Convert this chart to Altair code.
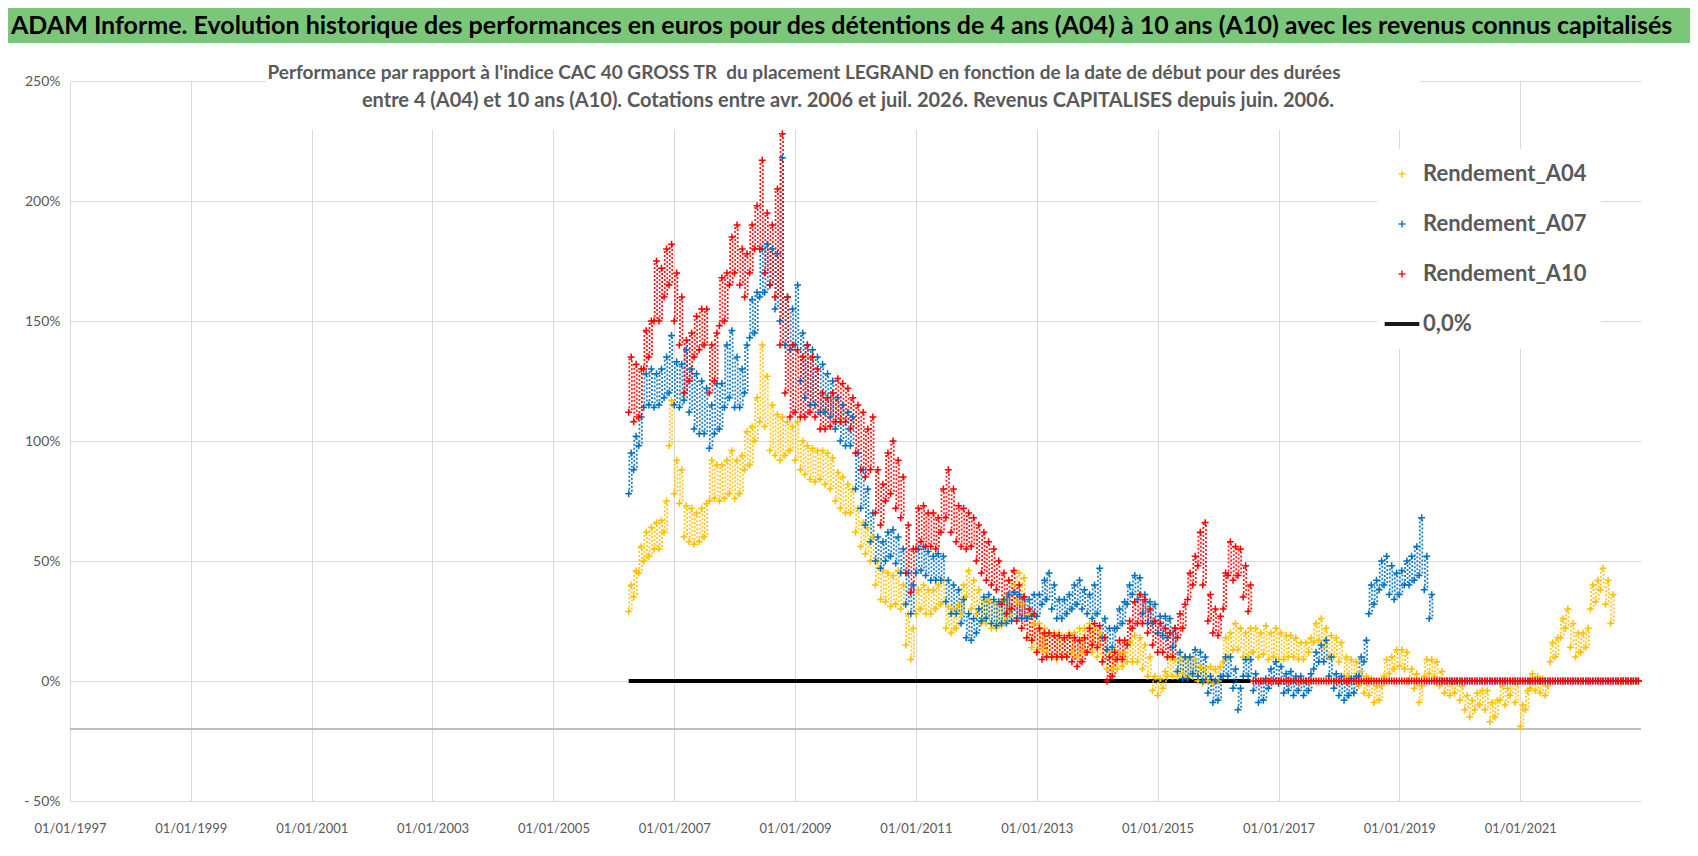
import altair as alt
import pandas as pd

FONT = "Lato"

series_names = ["Rendement_A04", "Rendement_A07", "Rendement_A10", "0,0%"]
series_colors = ["#FFC000", "#0070C0", "#FF0000", "#000000"]

title_text = ("ADAM Informe. Evolution historique des performances en euros pour des détentions "
              "de 4 ans (A04) à 10 ans (A10) avec les revenus connus capitalisés")
subtitle_1 = ("Performance par rapport à l'indice CAC 40 GROSS TR\u00a0 du placement LEGRAND en fonction "
              "de la date de début pour des durées")
subtitle_2 = ("entre 4 (A04) et 10 ans (A10). Cotations entre avr. 2006 et juil. 2026. "
              "Revenus CAPITALISES depuis juin. 2006.")

# monthly grid Apr 2006 .. Dec 2022 ; per month: low of the cloud (1st) and high (16th), in %
first_month = "2006-04-01"
n_months = 201

a04_lo = [
    29, 35, 45, 50, 52, 55, 55, 62, 98,
    78, 74, 60, 58, 57, 58, 60, 75, 76, 75, 76, 78,
    76, 78, 88, 90, 100, 108, 106, 96, 94, 92, 94, 96,
    92, 88, 86, 84, 83, 84, 82, 80, 75, 72, 70, 70,
    62, 56, 53, 50, 40, 34, 33, 31, 32, 30, 15, 9,
    28, 30, 28, 28, 30, 32, 22, 20, 22, 28, 35, 30,
    28, 24, 24, 22, 22, 23, 25, 28, 33, 32, 18, 14,
    13, 13, 12, 10, 9, 10, 10, 12, 10, 12, 12, 12,
    10, 8, 5, 5, 5, 6, 8, 8, 8, 5, 2, -4,
    -6, -3, 2, 2, 2, 3, 2, 2, 0, -1, 0, -1,
    0, 8, 10, 13, 13, 10, 10, 12, 10, 11, 9, 10,
    9, 9, 10, 10, 9, 9, 12, 16, 17, 14, 10, 10,
    8, 2, 2, 1, -2, -5, -6, -9, -8, 2, 3, 5,
    6, 5, 0, -3, -9, 2, 3, 2, -2, -5, -6, -5,
    -8, -12, -15, -12, -10, -12, -17, -15, -8, -10, -6, -9,
    -19, -12, -3, -4, -5, -6, 8, 10, 18, 22, 14, 10,
    12, 14, 30, 33, 38, 32, 24, 0, 0, 0, 0, 0,
]
a04_hi = [
    40, 46, 56, 62, 64, 66, 67, 75, 117,
    92, 88, 73, 72, 70, 72, 74, 92, 90, 90, 92, 96,
    92, 94, 104, 106, 118, 140, 127, 115, 111, 110, 108, 106,
    108, 100, 98, 97, 96, 96, 95, 93, 87, 85, 82, 80,
    72, 66, 64, 60, 50, 46, 45, 44, 46, 40, 28, 22,
    38, 40, 38, 38, 40, 42, 31, 30, 32, 40, 46, 42,
    38, 34, 34, 33, 33, 34, 36, 40, 45, 43, 28, 24,
    24, 22, 20, 20, 20, 18, 20, 20, 22, 22, 24, 22,
    20, 18, 12, 13, 12, 12, 16, 19, 18, 15, 10, 2,
    1, 4, 10, 9, 9, 10, 10, 9, 6, 5, 6, 5,
    6, 18, 20, 24, 22, 20, 22, 22, 20, 23, 20, 22,
    20, 19, 19, 18, 16, 16, 18, 24, 26, 22, 19, 18,
    16, 10, 9, 8, 4, 2, 1, -2, -2, 9, 10, 13,
    13, 12, 5, 3, -2, 9, 9, 8, 4, 0, -1, 0,
    -2, -6, -8, -5, -4, -4, -9, -8, -2, -3, 0, -1,
    -10, -4, 3, 2, 1, -2, 16, 18, 26, 30, 24, 20,
    20, 22, 40, 42, 47, 42, 36, 0, 0, 0, 0, 0,
]
a07_lo = [
    78, 88, 98, 114, 115, 114, 115, 118, 120,
    115, 114, 117, 112, 105, 103, 103, 97, 103, 105, 114, 118,
    114, 114, 120, 143, 145, 160, 162, 165, 155, 150, 140, 138,
    140, 125, 118, 115, 115, 112, 112, 110, 105, 100, 98, 98,
    80, 72, 65, 58, 50, 47, 50, 52, 49, 45, 32, 28,
    45, 46, 44, 42, 42, 42, 33, 28, 28, 24, 18, 17,
    20, 25, 26, 24, 23, 24, 24, 25, 26, 26, 26, 27,
    27, 32, 34, 30, 26, 26, 28, 30, 32, 30, 28, 26,
    28, 18, 13, 14, 22, 24, 32, 36, 34, 28, 24, 24,
    20, 19, 18, 14, 4, 1, 1, 3, 2, 0, -5, -9,
    -8, 2, 2, -3, -12, 2, 2, -4, -9, -8, -3, 0,
    -1, -5, -4, -6, -4, -6, -4, 5, 8, 8, 2, -3,
    -6, -8, -6, -5, 2, 8, 28, 32, 38, 40, 36, 34,
    36, 40, 40, 42, 44, 38, 26, 0, 0, 0, 0, 0,
    0, 0, 0, 0, 0, 0, 0, 0, 0, 0, 0, 0,
    0, 0, 0, 0, 0, 0, 0, 0, 0, 0, 0, 0,
    0, 0, 0, 0, 0, 0, 0, 0, 0, 0, 0, 0,
]
a07_hi = [
    95, 102, 110, 128, 130, 128, 130, 135, 144,
    133, 132, 138, 130, 128, 125, 122, 115, 124, 124, 140, 146,
    135, 130, 140, 159, 162, 180, 182, 180, 178, 218, 160, 155,
    165, 145, 140, 138, 135, 132, 128, 125, 118, 115, 112, 110,
    95, 88, 80, 70, 60, 58, 62, 63, 60, 55, 45, 40,
    55, 56, 54, 52, 53, 52, 42, 40, 38, 34, 28, 26,
    30, 35, 36, 34, 33, 34, 36, 37, 36, 35, 34, 36,
    36, 42, 45, 40, 34, 34, 36, 40, 42, 38, 36, 40,
    47, 26, 22, 22, 30, 33, 40, 44, 43, 36, 33, 32,
    27, 27, 26, 22, 12, 10, 10, 13, 12, 10, 2, 0,
    2, 10, 10, 5, -3, 9, 9, 3, 0, 1, 5, 8,
    6, 3, 4, 2, 2, 0, 3, 12, 15, 17, 10, 3,
    2, 0, 1, 2, 10, 17, 40, 42, 50, 52, 48, 45,
    46, 50, 52, 56, 68, 52, 36, 0, 0, 0, 0, 0,
    0, 0, 0, 0, 0, 0, 0, 0, 0, 0, 0, 0,
    0, 0, 0, 0, 0, 0, 0, 0, 0, 0, 0, 0,
    0, 0, 0, 0, 0, 0, 0, 0, 0, 0, 0, 0,
]
a10_lo = [
    112, 108, 110, 130, 135, 150, 150, 160, 165,
    150, 140, 120, 125, 135, 138, 140, 120, 125, 148, 150, 165,
    170, 165, 160, 170, 180, 180, 170, 165, 160, 140, 120, 110,
    112, 110, 110, 112, 110, 105, 105, 106, 108, 108, 108, 105,
    95, 88, 85, 88, 70, 65, 75, 78, 72, 68, 45, 37,
    55, 58, 56, 56, 55, 62, 68, 62, 58, 56, 55, 56,
    50, 45, 42, 40, 38, 32, 28, 30, 25, 22, 18, 17,
    12, 9, 10, 10, 10, 10, 10, 8, 6, 8, 12, 15,
    14, 8, 0, 2, 9, 9, 15, 22, 24, 24, 20, 15,
    12, 12, 10, 10, 18, 22, 34, 40, 48, 40, 25, 20,
    19, 30, 44, 42, 44, 35, 29, 0, 0, 0, 0, 0,
    0, 0, 0, 0, 0, 0, 0, 0, 0, 0, 0, 0,
    0, 0, 0, 0, 0, 0, 0, 0, 0, 0, 0, 0,
    0, 0, 0, 0, 0, 0, 0, 0, 0, 0, 0, 0,
    0, 0, 0, 0, 0, 0, 0, 0, 0, 0, 0, 0,
    0, 0, 0, 0, 0, 0, 0, 0, 0, 0, 0, 0,
    0, 0, 0, 0, 0, 0, 0, 0, 0, 0, 0, 0,
]
a10_hi = [
    135, 132, 130, 146, 150, 175, 172, 180, 182,
    170, 160, 142, 145, 152, 155, 155, 140, 145, 168, 170, 185,
    190, 180, 178, 190, 198, 217, 195, 190, 205, 228, 160, 140,
    138, 135, 140, 135, 130, 120, 118, 120, 126, 124, 122, 118,
    115, 112, 105, 110, 88, 82, 95, 100, 92, 85, 65, 55,
    72, 73, 70, 70, 68, 80, 88, 80, 73, 72, 70, 68,
    65, 62, 58, 55, 50, 45, 42, 46, 40, 35, 30, 28,
    22, 20, 20, 19, 19, 18, 19, 18, 17, 18, 22, 24,
    23, 18, 10, 12, 17, 17, 25, 33, 36, 34, 30, 25,
    24, 22, 20, 22, 28, 32, 45, 52, 62, 66, 36, 30,
    27, 45, 58, 56, 55, 48, 40, 0, 0, 0, 0, 0,
    0, 0, 0, 0, 0, 0, 0, 0, 0, 0, 0, 0,
    0, 0, 0, 0, 0, 0, 0, 0, 0, 0, 0, 0,
    0, 0, 0, 0, 0, 0, 0, 0, 0, 0, 0, 0,
    0, 0, 0, 0, 0, 0, 0, 0, 0, 0, 0, 0,
    0, 0, 0, 0, 0, 0, 0, 0, 0, 0, 0, 0,
    0, 0, 0, 0, 0, 0, 0, 0, 0, 0, 0, 0,
]

zero_line_dates = ["2006-04-01T00:00:00", "2016-07-16T00:00:00"]
zero_line_values = [0, 0]

y_ticks = [-50, 0, 50, 100, 150, 200, 250]
x_tick_years = [1997, 1999, 2001, 2003, 2005, 2007, 2009, 2011, 2013, 2015, 2017, 2019, 2021]
axis_cross_value = [-20]

# ---------------------------------------------------------------- tables
months = pd.date_range(first_month, periods=n_months, freq="MS")
rows, spans = [], []
for name, lo, hi in [(series_names[0], a04_lo, a04_hi),
                     (series_names[1], a07_lo, a07_hi),
                     (series_names[2], a10_lo, a10_hi)]:
    assert len(lo) == n_months and len(hi) == n_months, name
    for m, l, h in zip(months, lo, hi):
        rows.append({"date": m.strftime("%Y-%m-%dT00:00:00"), "serie": name, "value": l})
        rows.append({"date": (m + pd.Timedelta(days=15)).strftime("%Y-%m-%dT00:00:00"),
                     "serie": name, "value": h})
        # the spread of the month's cloud, drawn at two days of the month
        for d, k in ((4, 0), (19, 1)):
            spans.append({"date": (m + pd.Timedelta(days=d)).strftime("%Y-%m-%dT00:00:00"),
                          "serie": name, "value": l, "value_hi": h, "k": k})
points_df = pd.DataFrame(rows)
spans_df = pd.DataFrame(spans)
zero_df = pd.DataFrame({"date": zero_line_dates, "value": zero_line_values})
cross_df = pd.DataFrame({"value": axis_cross_value})
one_df = pd.DataFrame({"k": [0]})

PLUS = "M-1,-0.22L1,-0.22L1,0.22L-1,0.22Z M-0.22,-1L0.22,-1L0.22,1L-0.22,1Z"
BAR = "M-5,-0.55L5,-0.55L5,0.55L-5,0.55Z"

GRID = "#d9d9d9"
LABEL = "#595959"

x_enc = alt.X(
    "date:T",
    scale=alt.Scale(domain=[alt.DateTime(year=1997, month=1, date=1),
                            alt.DateTime(year=2023, month=1, date=1)]),
    axis=alt.Axis(values=[alt.DateTime(year=y, month=1, date=1) for y in x_tick_years],
                  format="%d/%m/%Y", title=None, grid=True, gridColor=GRID, gridWidth=1,
                  domain=False, ticks=False, labelFont=FONT, labelFontSize=13,
                  labelColor=LABEL, labelPadding=21, labelOverlap=False, labelFlush=False),
)
y_enc = alt.Y(
    "value:Q",
    scale=alt.Scale(domain=[-50, 250], nice=False, zero=False),
    axis=alt.Axis(values=y_ticks, title=None, grid=True, gridColor=GRID, gridWidth=1,
                  domain=False, ticks=False, labelFont=FONT, labelFontSize=14,
                  labelColor=LABEL, labelPadding=10, labelFlush=False,
                  labelExpr="datum.value < 0 ? '- ' + (-datum.value) + '%' : datum.value + '%'"),
)
legend = alt.Legend(title=None, orient="none", legendX=1307, legendY=68,
                    fillColor="white", padding=14, labelFont=FONT,
                    labelFontSize=22, labelFontWeight="bold", labelLimit=400,
                    labelColor=LABEL, symbolSize=48, rowPadding=28,
                    labelOffset=10, symbolStrokeWidth=0, symbolDash=[1, 0])
color_enc = alt.Color("serie:N", scale=alt.Scale(domain=series_names, range=series_colors),
                      legend=legend)
shape_enc = alt.Shape("serie:N",
                      scale=alt.Scale(domain=series_names, range=[PLUS, PLUS, PLUS, BAR]),
                      legend=legend)

cross_rule = alt.Chart(cross_df).mark_rule(color="#bfbfbf", strokeWidth=2).encode(y=y_enc)

zero_line = alt.Chart(zero_df).mark_line(color="#000000", strokeWidth=4).encode(x=x_enc, y=y_enc)

spreads_a = alt.Chart(spans_df).transform_filter("datum.k == 0").mark_rule(
    strokeWidth=1.8, strokeDash=[2, 2], opacity=0.9).encode(
    x=x_enc, y=y_enc, y2="value_hi:Q", color=color_enc)
spreads_b = alt.Chart(spans_df).transform_filter("datum.k == 1").mark_rule(
    strokeWidth=1.8, strokeDash=[2, 2], strokeDashOffset=2, opacity=0.9).encode(
    x=x_enc, y=y_enc, y2="value_hi:Q", color=color_enc)

points = alt.Chart(points_df).mark_point(filled=True, size=48, opacity=1, strokeWidth=0).encode(
    x=x_enc, y=y_enc, color=color_enc, shape=shape_enc)

sub_box = alt.Chart(one_df).mark_rect(color="white").encode(
    x=alt.value(196), x2=alt.value(1350), y=alt.value(-26), y2=alt.value(49))
sub_l1 = alt.Chart(one_df).mark_text(font=FONT, fontSize=19, fontWeight="bold", color=LABEL,
                                     align="center", baseline="middle").encode(
    x=alt.value(734), y=alt.value(-8), text=alt.value(subtitle_1))
sub_l2 = alt.Chart(one_df).mark_text(font=FONT, fontSize=20, fontWeight="bold", color=LABEL,
                                     align="center", baseline="middle").encode(
    x=alt.value(778), y=alt.value(20), text=alt.value(subtitle_2))

head_box = alt.Chart(one_df).mark_rect(color="#7cc67a").encode(
    x=alt.value(-62), x2=alt.value(1620), y=alt.value(-73), y2=alt.value(-38))
head_txt = alt.Chart(one_df).mark_text(font=FONT, fontSize=25, fontWeight="bold", color="#000000",
                                       align="left", baseline="middle").encode(
    x=alt.value(-59), y=alt.value(-55), text=alt.value(title_text))

chart = alt.layer(
    cross_rule, zero_line, spreads_a, spreads_b, points, sub_box, sub_l1, sub_l2, head_box, head_txt
).properties(
    width=1571, height=720, padding=0, background="white"
).configure_view(stroke=None)

chart.save("out.html", embed_options={"renderer": "svg", "actions": False})
